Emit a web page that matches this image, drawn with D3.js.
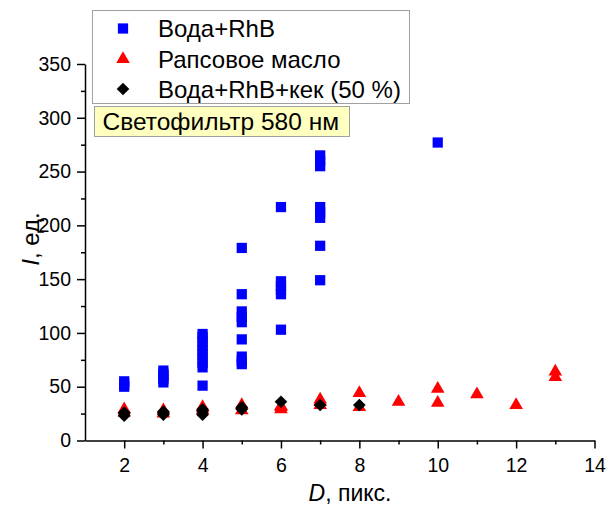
<!DOCTYPE html>
<html>
<head>
<meta charset="utf-8">
<script src="https://cdn.jsdelivr.net/npm/d3@7"></script>
<style>
  html, body { margin: 0; padding: 0; background: #fff; }
  svg { display: block; font-family: "Liberation Sans", Arial, sans-serif; }
</style>
</head>
<body>
<svg id="chart" width="607" height="510"></svg>
<script>
// ---- Data ----
const seriesNames = ["Вода+RhB", "Рапсовое масло", "Вода+RhB+кек (50 %)"];
const waterX = [2,2,2, 3,3,3,3,3, 4,4,4,4,4,4,4,4,4,4, 5,5,5,5,5,5,5,5,5, 6,6,6,6,6,6, 7,7,7,7,7,7,7,7, 10];
const waterY = [50,52,55, 54,57,60,62,65, 51,68,72,76,80,84,88,92,96,99, 71,74,78,94,110,115,120,136,179, 103,136,140,144,148,217, 149,181,207,212,217,255,260,265, 277];
const oilX = [2,2, 3,3, 4,4, 5,5, 6,6,6, 7,7,7, 8,8, 9, 10,10, 11, 12, 13,13];
const oilY = [26,29, 25,28, 28,31, 28,33, 29,31,32, 33,36,38, 31,44, 36, 35,48, 43, 33, 59,64];
const cakeX = [2,2,2, 3,3,3, 4,4,4, 5,5, 6, 7, 8];
const cakeY = [23,25,26, 24,26,27, 24,27,29, 29,31, 36, 33, 33];
const xMajorTicks = [2,4,6,8,10,12,14];
const xMinorTicks = [3,5,7,9,11,13];
const yMajorTicks = [0,50,100,150,200,250,300,350];
const yMinorTicks = [25,75,125,175,225,275,325];
const xTitle = ["D", ", пикс."];
const yTitle = ["I", ", ед."];
const noteText = "Светофильтр 580 нм";

// ---- Setup ----
const svg = d3.select("#chart");
const x = d3.scaleLinear().domain([1, 14]).range([85, 594.5]);
const y = d3.scaleLinear().domain([0, 350]).range([440.5, 64]);

const diamond = {
  draw(ctx, size) {
    const r = Math.sqrt(size / 2);
    ctx.moveTo(0, -r); ctx.lineTo(r, 0); ctx.lineTo(0, r); ctx.lineTo(-r, 0); ctx.closePath();
  }
};
const symSquare = d3.symbol().type(d3.symbolSquare).size(105)();
const symTri = d3.symbol().type(d3.symbolTriangle).size(80)();
const symDia = d3.symbol().type(diamond).size(80)();

const colors = ["#0000FF", "#FF0000", "#000000"];
const syms = [symSquare, symTri, symDia];

// ---- Axes ----
const fontSize = 19.5;
const xAxis = svg.append("g").attr("transform", `translate(0,${y(0)})`)
  .call(d3.axisBottom(x).tickValues(xMajorTicks).tickSize(8).tickSizeOuter(0).tickPadding(6).tickFormat(d3.format("d")));
const xAxisMinor = svg.append("g").attr("transform", `translate(0,${y(0)})`)
  .call(d3.axisBottom(x).tickValues(xMinorTicks).tickSize(4).tickSizeOuter(0).tickFormat(""));
const yAxis = svg.append("g").attr("transform", `translate(${x(1)},0)`)
  .call(d3.axisLeft(y).tickValues(yMajorTicks).tickSize(8).tickSizeOuter(0).tickPadding(6).tickFormat(d3.format("d")));
const yAxisMinor = svg.append("g").attr("transform", `translate(${x(1)},0)`)
  .call(d3.axisLeft(y).tickValues(yMinorTicks).tickSize(4).tickSizeOuter(0).tickFormat(""));
xAxisMinor.select(".domain").remove();
yAxisMinor.select(".domain").remove();

svg.selectAll(".tick line").attr("stroke", "#000").attr("stroke-width", 1.5);
svg.selectAll(".domain").attr("stroke", "#000").attr("stroke-width", 1.5);
svg.selectAll(".tick text").attr("font-size", fontSize).attr("fill", "#000")
  .attr("font-family", "'Liberation Sans', Arial, sans-serif");
xAxis.selectAll(".tick text").attr("dy", "0.9em");

// Axis titles
const xt = svg.append("text").attr("x", 350).attr("y", 501).attr("text-anchor", "middle")
  .attr("font-size", 23).attr("fill", "#000");
xt.append("tspan").attr("font-style", "italic").text(xTitle[0]);
xt.append("tspan").text(xTitle[1]);

const yt = svg.append("text").attr("transform", "translate(39,239) rotate(-90)")
  .attr("text-anchor", "middle").attr("font-size", 24).attr("fill", "#000");
yt.append("tspan").attr("font-style", "italic").text(yTitle[0]);
yt.append("tspan").text(yTitle[1]);

// ---- Data points ----
const allSeries = [
  waterX.map((d, i) => ({ x: d, y: waterY[i] })),
  oilX.map((d, i) => ({ x: d, y: oilY[i] })),
  cakeX.map((d, i) => ({ x: d, y: cakeY[i] }))
];
allSeries.forEach((pts, si) => {
  svg.append("g").selectAll("path").data(pts).join("path")
    .attr("d", syms[si])
    .attr("transform", d => `translate(${x(d.x)},${y(d.y)})`)
    .attr("fill", colors[si]);
});

// ---- Legend ----
const lg = svg.append("g");
lg.append("rect").attr("x", 92.5).attr("y", 10.5).attr("width", 317).attr("height", 93)
  .attr("fill", "#fff").attr("stroke", "#a0a0a0").attr("stroke-width", 1);
const legY = [28.5, 59, 89];
seriesNames.forEach((name, i) => {
  lg.append("path").attr("d", syms[i]).attr("transform", `translate(123,${legY[i]})`).attr("fill", colors[i]);
  lg.append("text").attr("x", 158).attr("y", legY[i]).attr("dy", "0.36em")
    .attr("font-size", 24).attr("fill", "#000").text(name);
});

// ---- Note box ----
svg.append("rect").attr("x", 94.5).attr("y", 106.5).attr("width", 255).attr("height", 30)
  .attr("fill", "#FFFFC0").attr("stroke", "#a0a0a0").attr("stroke-width", 1);
svg.append("text").attr("x", 102.5).attr("y", 121.5).attr("dy", "0.36em")
  .attr("font-size", 24.5).attr("fill", "#000").text(noteText);
</script>
</body>
</html>
